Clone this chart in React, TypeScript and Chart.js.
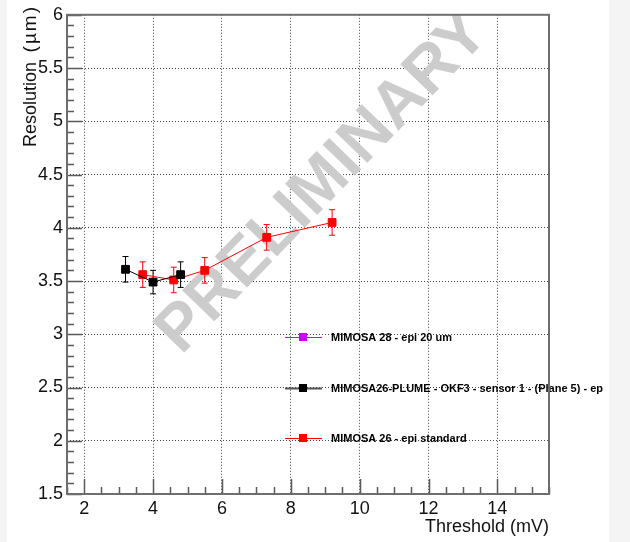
import React, { useEffect, useRef } from "react";
import { Chart, registerables } from "chart.js";

Chart.register(...registerables);

// ---- data ----
const xTickValues = [2, 4, 6, 8, 10, 12, 14];
const xTickLabels = ["2", "4", "6", "8", "10", "12", "14"];
const yTickValues = [1.5, 2, 2.5, 3, 3.5, 4, 4.5, 5, 5.5, 6];
const yTickLabels = ["1.5", "2", "2.5", "3", "3.5", "4", "4.5", "5", "5.5", "6"];

const m28Label = "MIMOSA 28 - epi 20 um";
const m28X: number[] = [];
const m28Y: number[] = [];
const m28Err: number[] = [];

const plumeLabel = "MIMOSA26-PLUME - OKF3 - sensor 1 - (Plane 5) - ep";
const plumeX = [3.2, 4.0, 4.8];
const plumeY = [3.61, 3.49, 3.56];
const plumeErr = [0.12, 0.11, 0.12];

const stdLabel = "MIMOSA 26 - epi standard";
const stdX = [3.7, 4.6, 5.5, 7.3, 9.2];
const stdY = [3.56, 3.51, 3.6, 3.91, 4.05];
const stdErr = [0.12, 0.12, 0.12, 0.12, 0.12];

const xTitle = "Threshold (mV)";
const yTitleMain = "Resolution";
const yTitleUnit = "(µm)";
const watermarkText = "PRELIMINARY";

const FONT = '"Liberation Sans", Arial, Helvetica, sans-serif';

function pts(xs: number[], ys: number[]) {
  return xs.map((x, i) => ({ x, y: ys[i] }));
}

const errorsByDataset = [m28Err, plumeErr, stdErr];

const rootPlugin = {
  id: "rootStyle",
  beforeDatasetsDraw(chart: any) {
    const ctx = chart.ctx as CanvasRenderingContext2D;
    const area = chart.chartArea;
    // watermark
    ctx.save();
    ctx.beginPath();
    ctx.rect(area.left, area.top, area.right - area.left, area.bottom - area.top);
    ctx.clip();
    ctx.translate(316, 183);
    ctx.rotate((-46 * Math.PI) / 180);
    ctx.font = `bold 65px ${FONT}`;
    ctx.fillStyle = "#cccccc";
    ctx.textAlign = "center";
    ctx.textBaseline = "middle";
    ctx.fillText(watermarkText, 0, 0);
    ctx.restore();

    // error bars
    const ys = chart.scales.y;
    chart.data.datasets.forEach((ds: any, di: number) => {
      const meta = chart.getDatasetMeta(di);
      const errs = errorsByDataset[di] || [];
      ctx.save();
      ctx.strokeStyle = ds.borderColor;
      ctx.lineWidth = 1;
      meta.data.forEach((el: any, i: number) => {
        const raw = ds.data[i];
        const e = errs[i];
        if (e == null) return;
        const px = el.x;
        const yt = ys.getPixelForValue(raw.y + e);
        const yb = ys.getPixelForValue(raw.y - e);
        ctx.beginPath();
        ctx.moveTo(px, yt);
        ctx.lineTo(px, yb);
        ctx.moveTo(px - 3, yt);
        ctx.lineTo(px + 3, yt);
        ctx.moveTo(px - 3, yb);
        ctx.lineTo(px + 3, yb);
        ctx.stroke();
      });
      ctx.restore();
    });
  },
  afterDatasetsDraw(chart: any) {
    const ctx = chart.ctx as CanvasRenderingContext2D;
    // legend
    const rowsY = [337, 388, 438];
    const lineX0 = 278;
    const lineX1 = 315;
    const markX = 296;
    const textX = 324;
    chart.data.datasets.forEach((ds: any, di: number) => {
      const y = rowsY[di];
      ctx.save();
      ctx.strokeStyle = di === 1 ? "#555555" : ds.borderColor;
      ctx.lineWidth = di === 1 ? 2 : 1;
      ctx.beginPath();
      ctx.moveTo(lineX0, y + 0.5);
      ctx.lineTo(lineX1, y + 0.5);
      ctx.stroke();
      ctx.fillStyle = ds.pointBackgroundColor;
      ctx.fillRect(markX - 4, y - 4, 8, 8);
      ctx.fillStyle = "#000";
      ctx.font = `bold 11px ${FONT}`;
      ctx.textAlign = "left";
      ctx.textBaseline = "middle";
      ctx.fillText(ds.label, textX, y + 1);
      ctx.restore();
    });
  },
  afterDraw(chart: any) {
    const ctx = chart.ctx as CanvasRenderingContext2D;
    const area = chart.chartArea;
    const xs = chart.scales.x;
    const ys = chart.scales.y;
    ctx.save();
    // ticks
    ctx.strokeStyle = "#5a5a5a";
    ctx.lineWidth = 1.5;
    ctx.beginPath();
    for (let k = 0; k <= 45; k++) {
      const v = 1.5 + k * 0.1;
      const py = Math.round(ys.getPixelForValue(v)) + 0.5;
      const major = k % 5 === 0;
      ctx.moveTo(area.left, py);
      ctx.lineTo(area.left + (major ? 15 : 7), py);
    }
    for (let k = 0; k <= 28; k++) {
      const v = 1.5 + k * 0.5;
      const px = Math.round(xs.getPixelForValue(v)) + 0.5;
      const major = Math.abs(v % 2) < 1e-6;
      ctx.moveTo(px, area.bottom);
      ctx.lineTo(px, area.bottom - (major ? 15 : 7));
    }
    ctx.stroke();
    // frame
    ctx.strokeStyle = "#6e6e6e";
    ctx.lineWidth = 2;
    ctx.strokeRect(area.left, area.top, area.right - area.left, area.bottom - area.top);

    // axis titles
    ctx.fillStyle = "#111";
    ctx.font = `18px ${FONT}`;
    ctx.textAlign = "right";
    ctx.textBaseline = "alphabetic";
    ctx.fillText(xTitle, area.right, 532);

    ctx.translate(29, 147);
    ctx.rotate(-Math.PI / 2);
    ctx.textAlign = "left";
    ctx.fillText(yTitleMain, 0, 0);
    ctx.font = `19px ${FONT}`;
    ctx.textAlign = "right";
    (ctx as any).letterSpacing = "2px";
    ctx.fillText(yTitleUnit, 142, 0);
    ctx.restore();
  },
};

export default function App() {
  const ref = useRef<HTMLCanvasElement | null>(null);

  useEffect(() => {
    if (!ref.current) return;
    const chart = new Chart(ref.current, {
      type: "scatter",
      data: {
        datasets: [
          {
            label: m28Label,
            data: pts(m28X, m28Y),
            borderColor: "#cc00ff",
            backgroundColor: "#cc00ff",
            pointBackgroundColor: "#cc00ff",
            pointBorderColor: "#cc00ff",
            showLine: true,
            borderWidth: 1,
            pointStyle: "rect",
            pointRadius: 5.5,
          },
          {
            label: plumeLabel,
            data: pts(plumeX, plumeY),
            borderColor: "#000000",
            backgroundColor: "#000000",
            pointBackgroundColor: "#000000",
            pointBorderColor: "#000000",
            showLine: true,
            borderWidth: 1,
            pointStyle: "rect",
            pointRadius: 5.5,
          },
          {
            label: stdLabel,
            data: pts(stdX, stdY),
            borderColor: "#ff0000",
            backgroundColor: "#ff0000",
            pointBackgroundColor: "#ff0000",
            pointBorderColor: "#ff0000",
            showLine: true,
            borderWidth: 1,
            pointStyle: "rect",
            pointRadius: 5.5,
          },
        ] as any,
      },
      options: {
        animation: false,
        responsive: false,
        devicePixelRatio: 1,
        layout: { padding: { left: 0, right: 60, top: 7, bottom: 0 } },
        plugins: {
          legend: { display: false },
          tooltip: { enabled: false },
        },
        scales: {
          x: {
            type: "linear",
            min: 1.5,
            max: 15.5,
            afterBuildTicks: (s: any) => {
              s.ticks = xTickValues.map((v) => ({ value: v }));
            },
            afterFit: (s: any) => {
              s.height = 48;
            },
            ticks: {
              callback: (_v: any, i: number) => xTickLabels[i],
              font: { family: FONT, size: 18 },
              color: "#111",
              padding: 4,
              maxRotation: 0,
              autoSkip: false,
            },
            grid: { color: "#444", lineWidth: 1, drawTicks: false },
            border: { display: false, dash: [1, 2] },
          },
          y: {
            type: "linear",
            min: 1.5,
            max: 6,
            afterBuildTicks: (s: any) => {
              s.ticks = yTickValues.map((v) => ({ value: v }));
            },
            afterFit: (s: any) => {
              s.width = 60;
            },
            ticks: {
              callback: (_v: any, i: number) => yTickLabels[i],
              font: { family: FONT, size: 18 },
              color: "#111",
              padding: 4,
              autoSkip: false,
            },
            grid: { color: "#444", lineWidth: 1, drawTicks: false },
            border: { display: false, dash: [1, 2] },
          },
        },
      } as any,
      plugins: [rootPlugin],
    });
    return () => chart.destroy();
  }, []);

  return (
    <div
      style={{
        position: "absolute",
        left: 0,
        top: 0,
        width: 630,
        height: 542,
        background: "#f4f4f4",
      }}
    >
      <div
        style={{
          position: "absolute",
          left: 7,
          top: 0,
          width: 602,
          height: 542,
          background: "#ffffff",
        }}
      >
        <canvas ref={ref} width={602} height={542} style={{ display: "block" }} />
      </div>
    </div>
  );
}
